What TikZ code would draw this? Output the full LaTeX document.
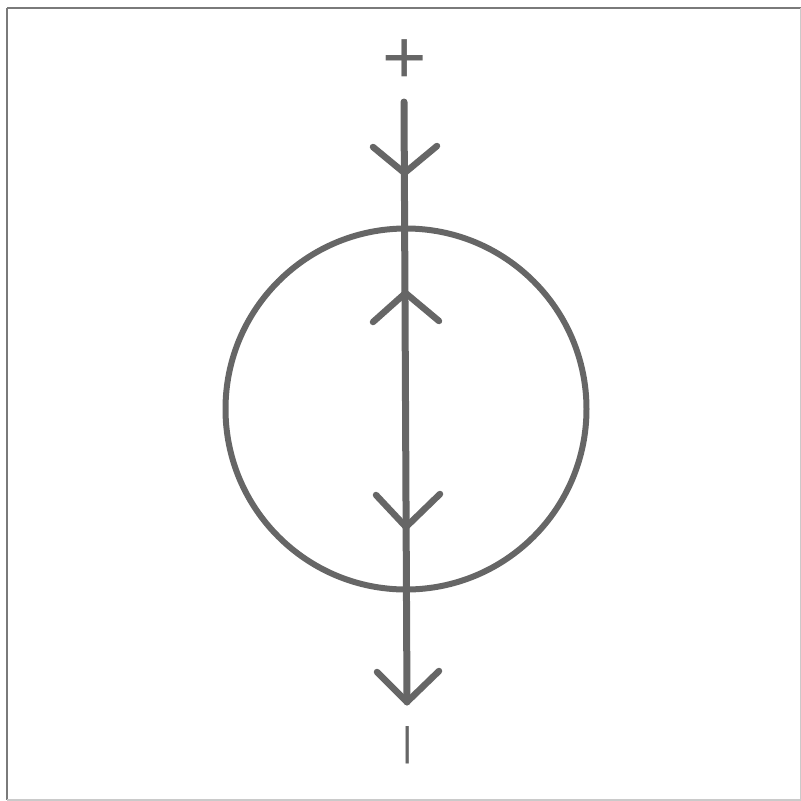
\documentclass[tikz,border=0pt]{standalone}
\usepackage{fontspec}
\newfontfamily\signfont{Liberation Sans}
\definecolor{ink}{HTML}{666666}
\definecolor{framec}{HTML}{7A7A7A}
\begin{document}
\begin{tikzpicture}[x=1pt,y=-1pt,
  wire/.style={draw=ink,line width=7pt,line cap=round},
  ring/.style={draw=ink,line width=6pt},
  chev/.style={draw=ink,line width=6.5pt,line cap=round,line join=round},
  sign/.style={text=ink,inner sep=0pt,font=\signfont\fontsize{76}{76}\selectfont},
  barsign/.style={text=ink,inner sep=0pt,font=\signfont\fontsize{40}{40}\selectfont}]
\useasboundingbox (0,0) rectangle (801,801);
\draw[framec,line width=2.5pt] (7,8) -- (801,8) (7,8) -- (7,800);
\draw[framec!40,line width=1.5pt] (801,8) -- (801,800) -- (7,800);
\coordinate (top) at (404,102);
\coordinate (bot) at (407,702);
\node[ring,circle,minimum size=361pt,inner sep=0pt] (c) at (406,409) {};
\draw[wire] (top) -- (bot);
\draw[chev] (373,147) -- (404.5,173) -- (437,146);
\draw[chev] (373,322) -- (405.5,293) -- (439,321);
\draw[chev] (376,495) -- (406,527) -- (440,494);
\draw[chev] (377,672) -- (407,702) -- (439,671);
\node[sign] (plus) at (405,62) {+};
\node[barsign] (minus) at (408,745) {|};
\end{tikzpicture}
\end{document}
